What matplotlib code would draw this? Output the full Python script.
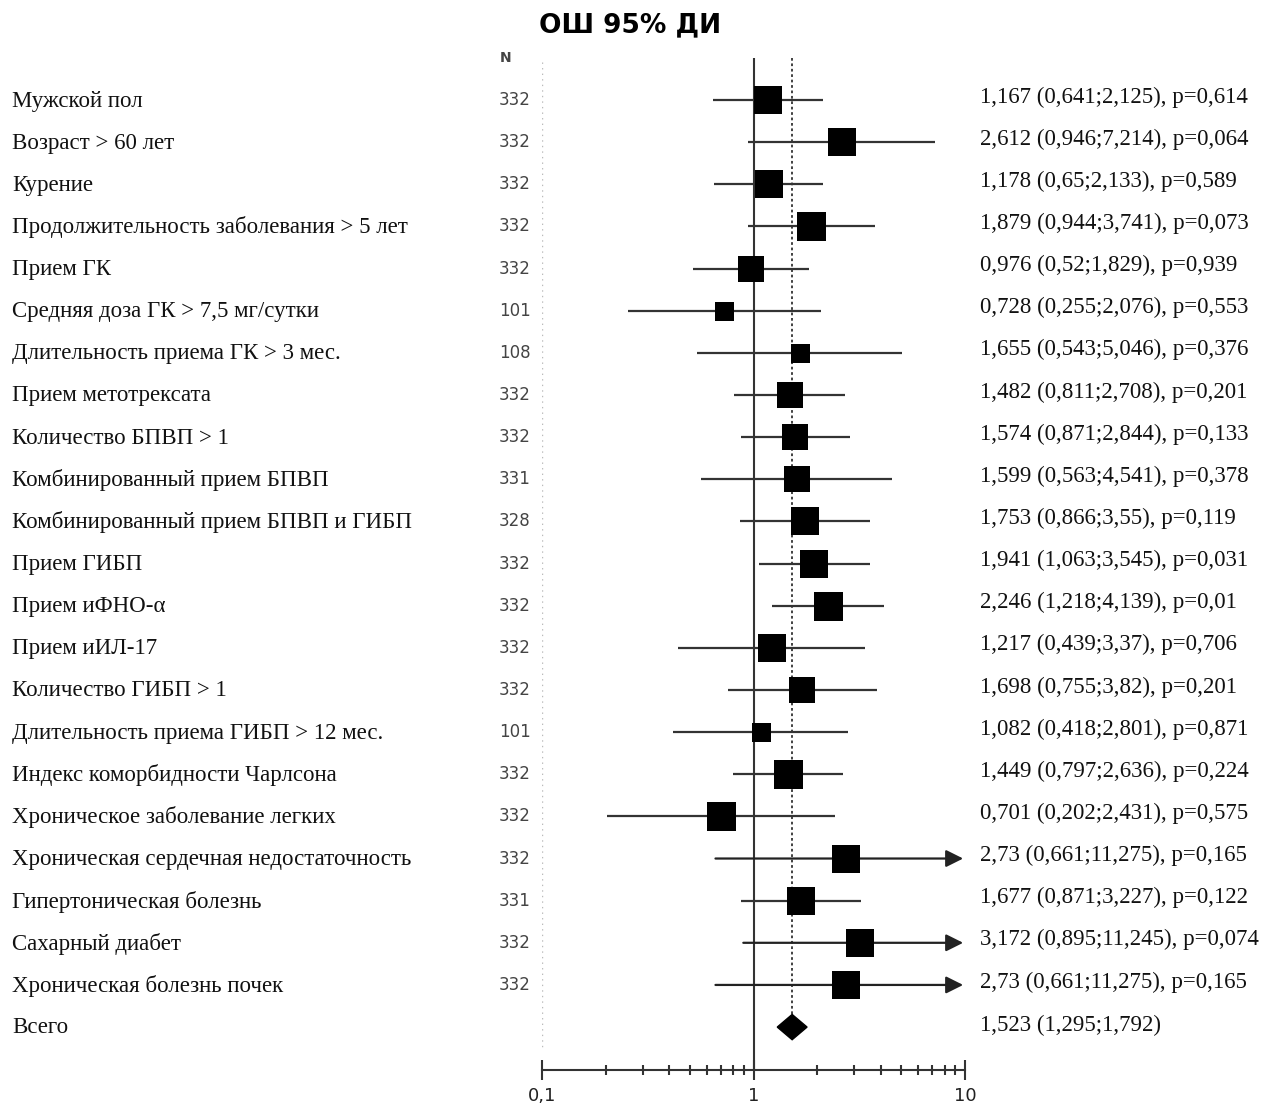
import numpy as np
import matplotlib.pyplot as plt
from matplotlib.patches import Polygon
from matplotlib.ticker import FixedLocator, NullFormatter

# Data
labels = [
    "Мужской пол",
    "Возраст > 60 лет",
    "Курение",
    "Продолжительность заболевания > 5 лет",
    "Прием ГК",
    "Средняя доза ГК > 7,5 мг/сутки",
    "Длительность приема ГК > 3 мес.",
    "Прием метотрексата",
    "Количество БПВП > 1",
    "Комбинированный прием БПВП",
    "Комбинированный прием БПВП и ГИБП",
    "Прием ГИБП",
    "Прием иФНО-α",
    "Прием иИЛ-17",
    "Количество ГИБП > 1",
    "Длительность приема ГИБП > 12 мес.",
    "Индекс коморбидности Чарлсона",
    "Хроническое заболевание легких",
    "Хроническая сердечная недостаточность",
    "Гипертоническая болезнь",
    "Сахарный диабет",
    "Хроническая болезнь почек",
]
n_values = [332, 332, 332, 332, 332, 101, 108, 332, 332, 331, 328, 332,
            332, 332, 332, 101, 332, 332, 332, 331, 332, 332]
odds = [1.167, 2.612, 1.178, 1.879, 0.976, 0.728, 1.655, 1.482, 1.574, 1.599,
        1.753, 1.941, 2.246, 1.217, 1.698, 1.082, 1.449, 0.701, 2.73, 1.677,
        3.172, 2.73]
ci_low = [0.641, 0.946, 0.65, 0.944, 0.52, 0.255, 0.543, 0.811, 0.871, 0.563,
          0.866, 1.063, 1.218, 0.439, 0.755, 0.418, 0.797, 0.202, 0.661, 0.871,
          0.895, 0.661]
ci_high = [2.125, 7.214, 2.133, 3.741, 1.829, 2.076, 5.046, 2.708, 2.844, 4.541,
           3.55, 3.545, 4.139, 3.37, 3.82, 2.801, 2.636, 2.431, 11.275, 3.227,
           11.245, 11.275]
p_values = ["0,614", "0,064", "0,589", "0,073", "0,939", "0,553", "0,376", "0,201",
            "0,133", "0,378", "0,119", "0,031", "0,01", "0,706", "0,201", "0,871",
            "0,224", "0,575", "0,165", "0,122", "0,074", "0,165"]
total_label = "Всего"
total_or = 1.523
total_low = 1.295
total_high = 1.792

# box side in pixels (relative weight of each study)
box_px = [28, 28, 28, 29, 26, 19, 19, 27, 27, 27, 28, 28, 29, 28, 27, 19, 29, 29,
          28, 28, 28, 28]


def fmt(v):
    return ("%g" % v).replace(".", ",")


W, H = 1283, 1106
fig = plt.figure(figsize=(W / 100, H / 100), dpi=100)

# plot region in pixels: x 542..965, y 58..1070
row0, row_step = 100, 42.14
y_top = (58 - row0) / row_step
y_bot = (1070 - row0) / row_step
ax = fig.add_axes([542 / W, 1 - 1070 / H, (965 - 542) / W, (1070 - 58) / H])
ax.set_xscale("log")
ax.set_xlim(0.1, 10)
ax.set_ylim(y_bot, y_top)

for s in ["top", "left", "right"]:
    ax.spines[s].set_visible(False)
ax.spines["bottom"].set_color("#333333")
ax.spines["bottom"].set_linewidth(1.5)
ax.set_yticks([])
ax.xaxis.set_major_locator(FixedLocator([0.1, 1, 10]))
ax.set_xticklabels(["0,1", "1", "10"])
minors = [k * d for d in (0.1, 1) for k in range(2, 10)]
ax.xaxis.set_minor_locator(FixedLocator(minors))
ax.xaxis.set_minor_formatter(NullFormatter())
ax.tick_params(axis="x", which="major", direction="inout", length=14, width=1.5,
               color="#333333", labelsize=13, labelcolor="#222222", pad=5)
ax.tick_params(axis="x", which="minor", direction="inout", length=7, width=1.5,
               color="#333333")

rows = np.arange(len(labels))
n_rows = len(labels)

# reference lines
ax.axvline(1, color="#333333", lw=1.5, zorder=1)
ax.vlines(total_or, y_top, n_rows, color="#333333", lw=1.3, linestyles=(0, (1.5, 1.5)), zorder=1)
ax.vlines(0.1, y_top + 0.1, n_rows + 0.5, color="#bbbbbb", lw=1, linestyles=(0, (1, 3)), zorder=1)

# confidence intervals and boxes
for i in rows:
    if ci_high[i] > 10:
        ax.annotate("", xy=(9.8, i), xytext=(ci_low[i], i),
                    arrowprops=dict(arrowstyle="-|>", color="#222222", lw=1.6,
                                    mutation_scale=26, shrinkA=0, shrinkB=0),
                    zorder=2)
    else:
        ax.hlines(i, ci_low[i], ci_high[i], color="#333333", lw=1.6, zorder=2)
    ax.plot(odds[i], i, marker="s", color="black", markersize=box_px[i] * 0.72,
            markeredgewidth=0, zorder=3)

# total diamond
d_h = 0.3
diamond = Polygon([(total_low, n_rows), (total_or, n_rows - d_h),
                   (total_high, n_rows), (total_or, n_rows + d_h)],
                  closed=True, color="black", zorder=3)
ax.add_patch(diamond)

# text columns
serif = "Liberation Serif"
for i in rows:
    fig_y = 1 - (row0 + row_step * i) / H
    fig.text(12 / W, fig_y - 1 / H, labels[i], family=serif, fontsize=16.5,
             va="center", ha="left", color="#111111")
    fig.text(515 / W, fig_y, str(n_values[i]), family="DejaVu Sans", fontsize=12,
             va="center", ha="center", color="#444444")
    txt = "%s (%s;%s), p=%s" % (fmt(odds[i]), fmt(ci_low[i]), fmt(ci_high[i]), p_values[i])
    fig.text(980 / W, fig_y + 3 / H, txt, family=serif, fontsize=16.5,
             va="center", ha="left", color="#111111")

fig_y = 1 - (row0 + row_step * n_rows) / H
fig.text(12 / W, fig_y, total_label, family=serif, fontsize=16.5,
         va="center", ha="left", color="#111111")
fig.text(980 / W, fig_y + 2 / H,
         "%s (%s;%s)" % (fmt(total_or), fmt(total_low), fmt(total_high)),
         family=serif, fontsize=16.5, va="center", ha="left", color="#111111")

fig.text(506 / W, 1 - 58 / H, "N", family="DejaVu Sans", fontsize=10,
         fontweight="bold", va="center", ha="center", color="#444444")
fig.text(630 / W, 1 - 25 / H, "ОШ 95% ДИ", family="DejaVu Sans", fontsize=19,
         fontweight="bold", va="center", ha="center", color="black")

fig.savefig("out.png", dpi=100)
